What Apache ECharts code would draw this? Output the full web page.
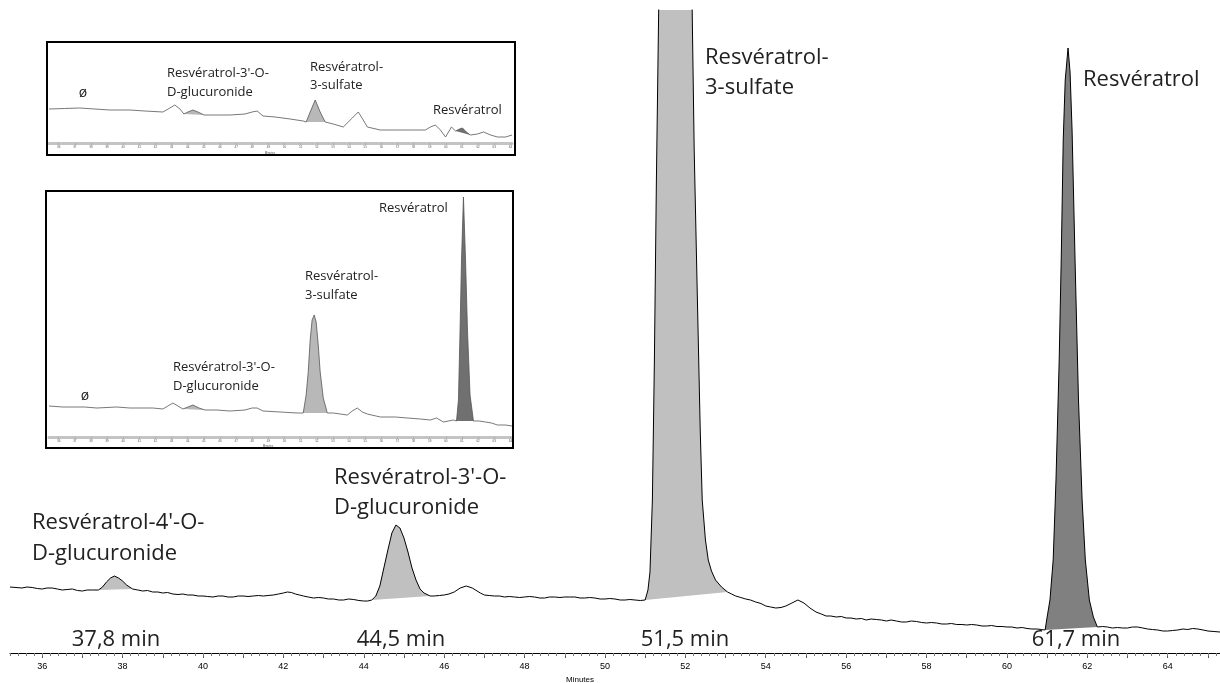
<!DOCTYPE html>
<html>
<head>
<meta charset="utf-8">
<script src="https://cdn.jsdelivr.net/npm/echarts@6/dist/echarts.min.js"></script>
<style>
  html, body { margin: 0; padding: 0; background: #fff; }
  #chart { width: 1220px; height: 683px; }
</style>
</head>
<body>
<div id="chart"></div>
<script>
// ---------- DATA (time in minutes, signal in arbitrary detector units) ----------
// Main chromatogram
const mainTrace = [
  [35.2,66],[35.35,65.5],[35.5,65],[35.62,66],[35.75,65.5],[35.88,64.5],[36,64],[36.12,65],[36.25,65],[36.38,64],[36.5,63],
  [36.62,63.5],[36.75,64],[36.88,62.5],[37,62],[37.12,63],[37.25,63],
  [37.4,63],[37.5,66],[37.6,71],[37.7,75],[37.8,77],[37.9,75],[38,72],[38.1,68],[38.25,64],
  [38.38,63],[38.5,62],[38.62,62.5],[38.75,61],[38.88,61],[39,60],[39.12,60.5],[39.25,59],[39.38,58.5],[39.5,59],
  [39.62,58],[39.75,58],[39.88,57],[40,57],[40.12,56.5],[40.25,56],[40.38,57],[40.5,57],[40.62,56],
  [40.75,56],[40.88,57],[41,57],[41.12,56.5],[41.25,57],[41.38,57.5],[41.5,57],[41.62,57.5],[41.75,58],[41.88,59],[42,60],[42.1,61],[42.2,60.5],[42.3,59],
  [42.4,58],[42.5,57],[42.62,56],[42.75,55],[42.88,55.5],[43,55],[43.12,54],[43.25,54],[43.38,53],[43.5,53],[43.62,54],[43.75,53.5],[43.88,52.5],[44,52],[44.1,52],
  [44.2,53],[44.3,57],[44.4,67],[44.5,85],[44.6,103],[44.7,120],[44.8,128],[44.9,125],[45,115],
  [45.1,101],[45.2,85],[45.3,73],[45.4,64],[45.5,60],[45.65,57],
  [45.75,57],[45.88,57.5],[46,58],[46.12,59],[46.25,61],[46.4,65],[46.55,67],[46.7,65],[46.9,60],[47,58],[47.12,57.5],[47.25,57],
  [47.38,57],[47.5,56],[47.62,56.5],[47.75,56],[47.88,55.5],[48,56],[48.12,56.5],[48.25,56],[48.38,55],[48.5,55],[48.62,56],[48.75,56],[48.88,55.5],[49,56],[49.12,56],[49.25,56],[49.38,55],[49.5,55],
  [49.62,55.5],[49.75,55],[49.88,54],[50,54],[50.12,54.5],[50.25,54],[50.38,53],[50.5,53],[50.62,53.5],[50.75,53],[50.88,52.5],
  [51,53],[51.07,63],[51.12,81],[51.18,153],[51.23,293],[51.28,473],[51.33,623],[51.38,773],
  [51.75,1850],
  [52.12,800],[52.17,643],[52.22,503],[52.3,353],[52.37,223],[52.42,153],[52.5,113],[52.57,93],
  [52.65,82],[52.75,73],[52.9,66],[53.05,61],
  [53.15,59],[53.25,57],[53.38,55.5],[53.5,54],[53.62,53],[53.75,51],[53.88,49.5],[54,47],[54.12,46],[54.25,45],[54.38,45.5],[54.5,47],[54.65,50],[54.8,53],[54.95,50],
  [55.1,45],[55.25,41],[55.38,39],[55.5,37],[55.62,37],[55.75,36],[55.88,36.5],[56,35],[56.12,35],[56.25,34],[56.38,34.5],[56.5,33],[56.62,34],[56.75,33.5],[56.88,33],[57,32],
  [57.12,33],[57.25,32],[57.38,31],[57.5,31],[57.62,32],[57.75,31.5],[57.88,30.5],[58,30],[58.12,30.5],[58.25,30],[58.38,29],[58.5,29],[58.62,29.5],[58.75,28.5],[58.88,28.5],[59,28],[59.12,28.5],[59.25,28],
  [59.38,27],[59.5,27],[59.62,27.5],[59.75,26.5],[59.88,26.5],[60,26],[60.12,26],[60.25,25],[60.38,25.5],[60.5,24.5],[60.62,24],[60.75,24],[60.85,23.5],
  [60.95,23],[61,36],[61.07,53],[61.15,93],[61.22,173],[61.3,293],[61.35,393],[61.4,513],
  [61.45,573],[61.52,605],[61.57,581],[61.62,523],[61.7,383],[61.78,253],[61.87,153],[61.95,93],
  [62.05,53],[62.15,36],[62.25,26],
  [62.38,26.5],[62.5,26],[62.62,25],[62.75,25.5],[62.88,25],[63,25],[63.12,26],[63.25,26],[63.38,25],[63.5,24],[63.62,23.5],[63.75,23],[63.88,22],[64,22],[64.12,22.5],[64.25,23],[64.38,24],[64.5,23.5],
  [64.62,24.5],[64.75,24],[64.88,23],[65,22],[65.15,21.5],[65.3,21]
];
// integrated peak windows (start, end) in minutes
const mainPeakStart = [37.4, 44.2, 51.0, 60.95];
const mainPeakEnd   = [38.25, 45.65, 53.05, 62.25];
const mainPeakNames = [
  ["Resvératrol-4'-O-", "D-glucuronide"],
  ["Resvératrol-3'-O-", "D-glucuronide"],
  ["Resvératrol-", "3-sulfate"],
  ["Resvératrol"]
];
const mainPeakTimes = ["37,8 min", "44,5 min", "51,5 min", "61,7 min"];
const mainTickLabels = [36, 38, 40, 42, 44, 46, 48, 50, 52, 54, 56, 58, 60, 62, 64];

// Inset 1 (upper small chromatogram)
const inset1Trace = [
  [35.4,34],[36.37,34.5],[37.3,35],[38.24,34],[39.17,33],[40.41,33],[41.34,32],[42.46,31],
  [42.89,35],[43.2,38],[43.52,34],[43.76,29],[44.01,31],[44.32,33],[44.63,31],[45.01,28],
  [45.69,28],[46.62,28],[47.55,29],[47.99,31],[48.3,32],[48.67,27],[49.42,26],[50.35,24],
  [51.16,22],[51.34,21],[51.59,31],[51.9,43],[52.21,31],[52.52,21],[53.02,19],[53.64,16],
  [54.2,25],[54.57,31],[54.88,23],[55.13,16],[55.94,13],[56.87,13],[57.99,13],[58.73,13],
  [59.04,16],[59.35,18],[59.66,13],[59.98,6],[60.35,16],[60.6,12],[60.84,14],[61.03,15],
  [61.27,11],[61.52,8],[61.96,9],[62.34,11],[62.77,8],[63.2,6],[63.7,6],[64.1,8]
];
const inset1PeakStart = [43.76, 51.34, 60.6];
const inset1PeakEnd   = [45.01, 52.52, 61.52];

// Inset 2 (lower small chromatogram)
const inset2Trace = [
  [35.4,31],[36.25,30],[37.61,30],[38.36,29],[39.6,30],[40.41,29],[41.84,29],[42.46,28],
  [42.77,31],[43.08,34],[43.39,31],[43.7,28],[44.01,30],[44.32,32],[44.7,29],[45.07,27],
  [45.81,27],[46.62,26],[47.55,27],[47.99,29],[48.3,29],[48.67,26],[49.73,25],[50.78,24],
  [51.16,24],[51.34,42],[51.47,65],[51.59,97],[51.71,117],[51.84,122],[51.96,115],[52.09,92],
  [52.21,65],[52.4,39],[52.65,24],[53.02,24],[53.89,22],[54.2,26],[54.51,29],[54.82,25],
  [55.13,23],[55.94,20],[56.87,20],[57.61,19],[58.42,18],[59.04,17],[59.42,19],[59.85,15],
  [60.47,17],[60.66,16],[60.78,37],[60.88,107],[60.97,177],[61.09,240],[61.22,177],[61.34,107],
  [61.5,42],[61.71,16],[62.08,16],[62.46,15],[62.83,14],[63.2,12],[63.7,12],[64.1,11]
];
const inset2PeakStart = [43.7, 51.16, 60.66];
const inset2PeakEnd   = [45.07, 52.65, 61.71];
const insetTickLabels = [36,37,38,39,40,41,42,43,44,45,46,47,48,49,50,51,52,53,54,55,56,57,58,59,60,61,62,63,64];

// ---------- CHART ----------
const LIGHT = '#c0c0c0', DARK = '#808080';
const FONT = '"Open Sans", "Noto Sans", sans-serif';

function fillSeries(xi, yi, trace, t0, t1, color) {
  return {
    type: 'custom', xAxisIndex: xi, yAxisIndex: yi, clip: true, silent: true, z: 1,
    data: [[t0, 0]],
    renderItem: function (params, api) {
      const pts = [];
      trace.forEach(function (p) {
        if (p[0] >= t0 - 1e-9 && p[0] <= t1 + 1e-9) pts.push(api.coord(p));
      });
      return { type: 'polygon', shape: { points: pts }, style: { fill: color } };
    }
  };
}

const minorTicks = [];
for (let k = 176; k <= 326; k++) minorTicks.push(+(k * 0.2).toFixed(1));
const majorTicks = [];
for (let m = 36; m <= 65; m++) majorTicks.push(m);

const series = [];
mainPeakStart.forEach(function (s, i) {
  series.push(fillSeries(0, 0, mainTrace, s, mainPeakEnd[i], i === 3 ? DARK : LIGHT));
});
inset1PeakStart.forEach(function (s, i) {
  series.push(fillSeries(2, 1, inset1Trace, s, inset1PeakEnd[i], i === 2 ? '#707070' : '#b8b8b8'));
});
inset2PeakStart.forEach(function (s, i) {
  series.push(fillSeries(3, 2, inset2Trace, s, inset2PeakEnd[i], i === 2 ? '#707070' : '#b8b8b8'));
});
series.push({ type: 'line', xAxisIndex: 0, yAxisIndex: 0, data: mainTrace, symbol: 'none', clip: true,
  lineStyle: { color: '#000', width: 1 }, z: 3, animation: false });
series.push({ type: 'line', xAxisIndex: 2, yAxisIndex: 1, data: inset1Trace, symbol: 'none', clip: true,
  lineStyle: { color: '#555', width: 0.8 }, z: 3, animation: false });
series.push({ type: 'line', xAxisIndex: 3, yAxisIndex: 2, data: inset2Trace, symbol: 'none', clip: true,
  lineStyle: { color: '#555', width: 0.8 }, z: 3, animation: false });

function txt(s, x, y, size, align, color) {
  return { type: 'text', x: x, y: y, z: 10, silent: true,
    style: { text: s, font: size + 'px ' + FONT, fill: color || '#222',
      align: align || 'left', verticalAlign: 'middle' } };
}

const graphics = [
  { type: 'rect', shape: { x: 47, y: 42, width: 468, height: 113 }, style: { fill: 'none', stroke: '#000', lineWidth: 2 }, z: 5 },
  { type: 'rect', shape: { x: 46, y: 191, width: 467, height: 257 }, style: { fill: 'none', stroke: '#000', lineWidth: 2 }, z: 5 },
  // main labels
  txt(mainPeakNames[0][0], 32, 523, 22), txt(mainPeakNames[0][1], 32, 554, 22),
  txt(mainPeakNames[1][0], 334, 478, 22), txt(mainPeakNames[1][1], 334, 508, 22),
  txt(mainPeakNames[2][0], 705, 58, 22), txt(mainPeakNames[2][1], 705, 88, 22),
  txt(mainPeakNames[3][0], 1083, 80, 22),
  txt(mainPeakTimes[0], 116, 640, 22, 'center'), txt(mainPeakTimes[1], 401, 640, 22, 'center'),
  txt(mainPeakTimes[2], 685, 640, 22, 'center'), txt(mainPeakTimes[3], 1076, 640, 22, 'center'),
  { type: 'text', x: 580, y: 680, style: { text: 'Minutes', font: '8px "Liberation Sans", Arial, sans-serif', fill: '#000', align: 'center', verticalAlign: 'middle' } },
  // inset 1 labels
  txt('ø', 83, 93, 14, 'center'),
  txt(mainPeakNames[1][0], 167, 73, 13), txt(mainPeakNames[1][1], 167, 92, 13),
  txt(mainPeakNames[2][0], 310, 67, 13), txt(mainPeakNames[2][1], 310, 85, 13),
  txt(mainPeakNames[3][0], 433, 110, 13),
  { type: 'text', x: 270, y: 153, style: { text: 'Minutes', font: '3px sans-serif', fill: '#555', align: 'center', verticalAlign: 'middle' } },
  // inset 2 labels
  txt('ø', 85, 396, 14, 'center'),
  txt(mainPeakNames[1][0], 173, 367, 13), txt(mainPeakNames[1][1], 173, 386, 13),
  txt(mainPeakNames[2][0], 305, 276, 13), txt(mainPeakNames[2][1], 305, 295, 13),
  txt(mainPeakNames[3][0], 379, 208, 13),
  { type: 'text', x: 268, y: 446, style: { text: 'Minutes', font: '3px sans-serif', fill: '#555', align: 'center', verticalAlign: 'middle' } }
];

function insetX(grid) {
  return { type: 'value', gridIndex: grid, min: 35.4, max: 64.1,
    axisLine: { lineStyle: { color: '#c4c4c4', width: 3 } },
    axisTick: { customValues: insetTickLabels, length: 2, lineStyle: { color: '#999', width: 0.5 } },
    axisLabel: { customValues: insetTickLabels, fontSize: 3, margin: 3, color: '#555' },
    splitLine: { show: false } };
}

const option = {
  animation: false,
  backgroundColor: '#fff',
  grid: [
    { left: 10, right: 0, top: 10, bottom: 30 },
    { left: 49, width: 463, top: 44, height: 99 },
    { left: 49, width: 463, top: 193, height: 244 }
  ],
  xAxis: [
    { type: 'value', gridIndex: 0, min: 35.2, max: 65.3,
      axisLine: { lineStyle: { color: '#000', width: 1 } },
      axisTick: { customValues: majorTicks, length: 5, lineStyle: { color: '#555' } },
      axisLabel: { customValues: mainTickLabels, fontSize: 9, margin: 9, color: '#000',
        fontFamily: '"Liberation Sans", Arial, sans-serif' },
      splitLine: { show: false } },
    { type: 'value', gridIndex: 0, min: 35.2, max: 65.3, position: 'bottom',
      axisLine: { show: false },
      axisTick: { customValues: minorTicks, length: 3, lineStyle: { color: '#777' } },
      axisLabel: { show: false }, splitLine: { show: false } },
    insetX(1), insetX(2)
  ],
  yAxis: [
    { type: 'value', gridIndex: 0, min: 0, max: 643, show: false },
    { type: 'value', gridIndex: 1, min: 0, max: 99, show: false },
    { type: 'value', gridIndex: 2, min: 0, max: 244, show: false }
  ],
  graphic: graphics,
  series: series
};

const chart = echarts.init(document.getElementById('chart'), null, { renderer: 'canvas' });
chart.setOption(option);
</script>
</body>
</html>
